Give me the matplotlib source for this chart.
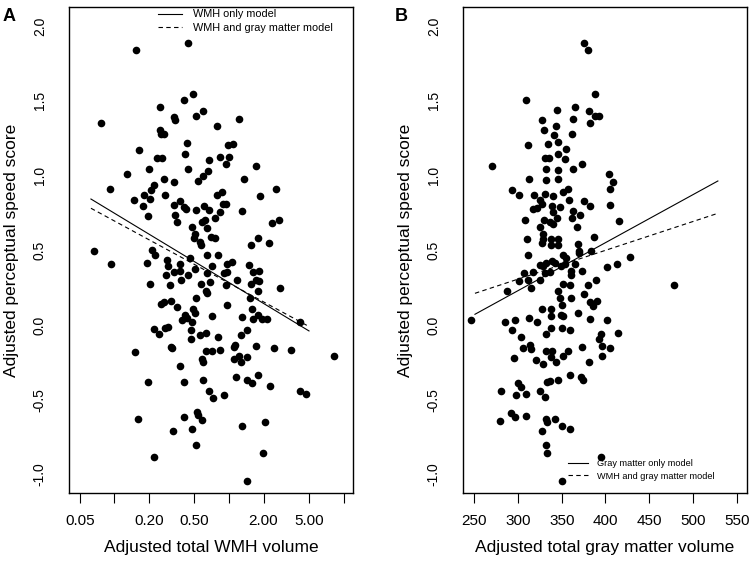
import matplotlib
matplotlib.use('Agg')
import matplotlib.pyplot as plt
import numpy as np
from matplotlib.lines import Line2D

plt.rcParams['font.family'] = ['Liberation Sans', 'DejaVu Sans']

# Panel A: adjusted WMH volume vs adjusted perceptual speed score
wmh_vol = [0.154, 0.442, 0.077, 0.489, 0.405, 0.249, 0.332, 0.338, 0.515, 0.597, 0.249, 0.255, 0.271, 0.433,
           0.163, 0.413, 0.236, 0.259, 0.669, 0.202, 0.442, 0.130, 0.652, 0.597, 0.537, 0.270, 0.334, 0.091,
           0.223, 0.210, 0.182, 0.275, 0.204, 0.149, 0.374, 0.178, 0.330, 0.405, 0.419, 0.515, 0.609, 0.669,
           0.196, 0.338, 0.354, 0.618, 0.578, 0.479, 0.647, 0.505, 0.495, 0.559, 0.567, 0.692, 0.066, 0.215,
           1.222, 0.786, 0.974, 1.077, 0.840, 1.006, 0.936, 1.730, 1.351, 2.570, 0.874, 0.781, 1.863, 0.892,
           0.936, 0.835, 0.751, 1.306, 2.357, 2.745, 0.751, 1.564, 1.790, 2.245,
           0.093, 0.193, 0.226, 0.290, 0.296, 0.374, 0.454, 0.639, 0.707, 0.332, 0.374, 0.284, 0.439, 0.505,
           0.643, 0.384, 0.206, 0.306, 0.567, 0.679, 0.627, 0.647, 0.515, 0.257, 0.271, 0.314, 0.350, 0.489,
           0.505, 0.413, 0.428, 0.392, 0.715, 0.473, 0.223, 0.245, 0.277, 0.292, 0.469, 0.556, 0.630, 0.469,
           0.152, 0.312, 0.318, 0.626, 0.715, 0.585, 0.594, 0.376, 0.198, 0.405, 0.597, 0.669, 0.725, 0.162,
           0.405, 0.523, 0.537, 0.585, 0.325, 0.479, 0.515, 0.223,
           0.807, 0.955, 1.062, 0.905, 0.966, 1.494, 1.609, 1.837, 1.167, 0.936, 1.564, 1.709, 1.837, 1.801,
           2.800, 1.524, 0.955, 1.578, 1.306, 1.609, 1.779, 1.951, 2.157, 4.184, 1.426, 1.280, 0.807, 0.835,
           1.105, 1.135, 1.730, 2.467, 3.490, 8.230, 1.112, 1.230, 1.273, 1.436, 1.144, 1.426, 1.578, 1.801,
           2.278, 0.905, 4.160, 4.660, 1.290, 2.047, 1.967, 1.426]
wmh_score = [1.840, 1.885, 1.350, 1.542, 1.506, 1.457, 1.390, 1.368, 1.395, 1.432, 1.301, 1.275, 1.275, 1.219,
             1.170, 1.145, 1.114, 1.114, 1.103, 1.045, 1.045, 1.011, 1.031, 0.996, 0.963, 0.974, 0.958, 0.911,
             0.936, 0.900, 0.871, 0.867, 0.840, 0.838, 0.829, 0.793, 0.800, 0.789, 0.777, 0.771, 0.793, 0.771,
             0.727, 0.733, 0.689, 0.704, 0.689, 0.655, 0.650, 0.610, 0.584, 0.555, 0.533, 0.588, 0.495, 0.499,
             1.375, 1.328, 1.205, 1.212, 1.123, 1.123, 1.078, 1.065, 0.974, 0.911, 0.887, 0.869, 0.860, 0.807,
             0.807, 0.755, 0.717, 0.764, 0.682, 0.700, 0.582, 0.537, 0.580, 0.546,
             0.408, 0.414, 0.466, 0.432, 0.392, 0.410, 0.448, 0.466, 0.392, 0.354, 0.359, 0.336, 0.336, 0.376,
             0.350, 0.303, 0.274, 0.265, 0.274, 0.285, 0.225, 0.212, 0.178, 0.142, 0.152, 0.162, 0.122, 0.109,
             0.080, 0.065, 0.047, 0.031, 0.060, 0.020, -0.029, -0.058, -0.020, -0.013, -0.031, -0.065, -0.051,
             -0.092, -0.180, -0.149, -0.156, -0.174, -0.176, -0.227, -0.249, -0.274, -0.379, -0.381, -0.368,
             -0.443, -0.488, -0.628, -0.617, -0.584, -0.604, -0.633, -0.709, -0.695, -0.802, -0.882,
             0.470, 0.410, 0.421, 0.348, 0.354, 0.399, 0.354, 0.363, 0.303, 0.269, 0.276, 0.301, 0.296, 0.229,
             0.247, 0.178, 0.136, 0.109, 0.053, 0.042, 0.065, 0.038, 0.038, 0.020, -0.035, -0.065, -0.082,
             -0.169, -0.145, -0.132, -0.138, -0.156, -0.169, -0.205, -0.225, -0.205, -0.249, -0.216, -0.348,
             -0.368, -0.386, -0.336, -0.408, -0.466, -0.439, -0.459, -0.677, -0.646, -0.856, -1.041]

# Panel B: adjusted gray matter volume vs adjusted perceptual speed score
gm_vol = [309.1, 344.9, 327.1, 343.1, 329.3, 341.1, 311.4, 334.6, 345.3, 270.6, 330.5, 335.1, 346.0, 355.2,
          353.4, 332.3, 345.3, 312.2, 331.6, 346.0, 293.1, 301.1, 318.3, 331.2, 340.0, 351.4, 324.8, 327.7,
          317.1, 321.7, 339.2, 347.6, 358.3, 340.0, 344.6, 329.7, 308.0, 336.9, 325.5, 340.0, 328.5, 328.5,
          310.2, 337.7, 346.0, 337.7, 346.0, 327.7,
          375.1, 380.3, 387.6, 365.1, 381.1, 387.6, 392.2, 382.3, 363.2, 362.0, 372.8, 363.2, 403.6, 408.6,
          404.8, 357.1, 375.8, 382.3, 405.5, 363.2, 362.0, 370.8, 415.1, 367.4, 386.5, 368.6, 369.7, 383.1,
          311.8, 325.5, 328.5, 332.3, 339.2, 341.9, 351.4, 355.2, 353.4, 349.5, 360.9, 306.8, 317.1, 311.4,
          301.1, 315.2, 324.8, 330.5, 336.9, 287.7, 351.4, 359.1, 345.7, 347.6, 350.6, 360.9, 327.4, 338.0,
          338.0, 348.8, 351.4, 246.6, 284.8, 296.2, 312.5, 322.0, 293.4, 338.0, 332.3, 350.6, 359.1, 303.7,
          313.3, 305.7, 315.2, 295.4, 320.9, 328.5, 332.3, 339.2, 338.0, 343.7, 351.4, 357.1, 359.1, 345.7,
          336.9, 333.1, 280.9, 300.0, 303.7, 297.3, 309.4, 325.5, 330.5, 279.0, 291.6, 296.9, 309.4, 332.3,
          333.1, 341.9, 350.6, 359.8, 327.4, 332.3, 333.5, 350.6,
          369.7, 428.0, 413.1, 401.7, 365.1, 373.5, 360.9, 389.5, 380.0, 375.1, 382.3, 390.6, 386.0, 368.6,
          382.3, 401.7, 478.3, 394.9, 392.6, 414.3, 396.0, 405.5, 373.5, 396.0, 381.1, 372.3, 374.3, 395.2]
gm_score = [1.506, 1.439, 1.368, 1.328, 1.301, 1.270, 1.203, 1.210, 1.221, 1.065, 1.118, 1.116, 1.145, 1.174,
            1.112, 1.045, 1.034, 0.974, 0.967, 0.974, 0.900, 0.869, 0.867, 0.874, 0.860, 0.889, 0.834, 0.807,
            0.775, 0.784, 0.793, 0.789, 0.838, 0.755, 0.717, 0.700, 0.700, 0.689, 0.655, 0.677, 0.610, 0.577,
            0.577, 0.577, 0.577, 0.537, 0.537, 0.548,
            1.885, 1.840, 1.542, 1.457, 1.431, 1.395, 1.395, 1.350, 1.375, 1.275, 1.078, 1.045, 1.011, 0.956,
            0.911, 0.911, 0.831, 0.798, 0.804, 0.760, 0.717, 0.735, 0.693, 0.655, 0.588, 0.543, 0.493, 0.495,
            0.470, 0.403, 0.392, 0.414, 0.430, 0.414, 0.466, 0.448, 0.408, 0.392, 0.363, 0.348, 0.354, 0.303,
            0.292, 0.247, 0.303, 0.348, 0.354, 0.229, 0.274, 0.269, 0.225, 0.180, 0.136, 0.180, 0.109, 0.109,
            0.058, 0.069, 0.058, 0.036, 0.020, 0.036, 0.047, 0.020, -0.031, -0.020, -0.060, -0.020, -0.031,
            -0.082, -0.132, -0.154, -0.158, -0.221, -0.232, -0.261, -0.172, -0.172, -0.216, -0.247, -0.205,
            -0.176, -0.336, -0.368, -0.376, -0.381, -0.443, -0.388, -0.417, -0.466, -0.461, -0.443, -0.483,
            -0.640, -0.588, -0.617, -0.610, -0.626, -0.648, -0.628, -0.677, -0.695, -0.711, -0.800, -0.856,
            -1.041,
            0.481, 0.453, 0.408, 0.388, 0.408, 0.359, 0.336, 0.303, 0.265, 0.209, 0.154, 0.162, 0.125, 0.080,
            0.042, 0.033, 0.265, -0.060, -0.092, -0.056, -0.138, -0.154, -0.149, -0.205, -0.249, -0.348,
            -0.370, -0.882]

# fitted lines: (intercept, slope); panel A is on log10(volume)
wmh_only_fit = (0.284, -0.464)
wmh_gm_fit_a = (0.280, -0.416)
wmh_fit_range = (0.0626, 4.98)
gm_only_fit = (-0.733, 0.003209)
wmh_gm_fit_b = (-0.271, 0.001926)
gm_fit_range = (250.8, 528.5)

wmh_ticks = [0.05, 0.1, 0.2, 0.5, 1, 2, 5, 10]
wmh_ticklabels = ['0.05', '', '0.20', '0.50', '', '2.00', '5.00', '']
gm_ticks = [250, 300, 350, 400, 450, 500, 550]
y_ticks = [-1.0, -0.5, 0.0, 0.5, 1.0, 1.5, 2.0]

fig = plt.figure(figsize=(7.5, 5.61), dpi=100)
axA = fig.add_axes([0.092, 0.1212, 0.3787, 0.8663])
axB = fig.add_axes([0.6173, 0.1212, 0.3787, 0.8663])


def style_axes(ax):
    ax.set_ylim(-1.123, 2.126)
    ax.set_yticks(y_ticks)
    ax.set_yticklabels(['%.1f' % v for v in y_ticks], rotation=90, va='center')
    ax.tick_params(axis='y', length=0, pad=16, labelsize=10)
    ax.tick_params(axis='x', length=7, width=0.8, pad=8, labelsize=11)
    for s in ax.spines.values():
        s.set_linewidth(1.0)
    ax.set_ylabel('Adjusted perceptual speed score', fontsize=12.5, labelpad=10)


# Panel A
axA.plot(wmh_vol, wmh_score, 'o', color='black', markersize=5.5, markeredgewidth=0)
xs = np.geomspace(*wmh_fit_range, 50)
axA.plot(xs, wmh_only_fit[0] + wmh_only_fit[1] * np.log10(xs), color='black', lw=0.8)
axA.plot(xs, wmh_gm_fit_a[0] + wmh_gm_fit_a[1] * np.log10(xs), color='black', lw=0.8, ls=(0, (4, 3)))
axA.set_xscale('log')
axA.set_xlim(0.0403, 12.05)
axA.set_xticks(wmh_ticks)
axA.set_xticklabels(wmh_ticklabels)
axA.xaxis.set_minor_locator(matplotlib.ticker.NullLocator())
style_axes(axA)
axA.set_xlabel('Adjusted total WMH volume', fontsize=12.5, labelpad=9)
axA.legend([Line2D([], [], color='black', lw=0.8), Line2D([], [], color='black', lw=0.8, ls=(0, (4, 3)))],
           ['WMH only model', 'WMH and gray matter model'],
           loc='upper left', bbox_to_anchor=(0.313, 0.995), frameon=False, fontsize=7.8,
           handlelength=2.2, handletextpad=1.0, labelspacing=0.3, borderpad=0, borderaxespad=0)

# Panel B
axB.plot(gm_vol, gm_score, 'o', color='black', markersize=5.5, markeredgewidth=0)
xs = np.linspace(*gm_fit_range, 50)
axB.plot(xs, gm_only_fit[0] + gm_only_fit[1] * xs, color='black', lw=0.8)
axB.plot(xs, wmh_gm_fit_b[0] + wmh_gm_fit_b[1] * xs, color='black', lw=0.8, ls=(0, (4, 3)))
axB.set_xlim(237.1, 561.8)
axB.set_xticks(gm_ticks)
style_axes(axB)
axB.set_xlabel('Adjusted total gray matter volume', fontsize=12.5, labelpad=9)
axB.legend([Line2D([], [], color='black', lw=0.8), Line2D([], [], color='black', lw=0.8, ls=(0, (4, 3)))],
           ['Gray matter only model', 'WMH and gray matter model'],
           loc='upper left', bbox_to_anchor=(0.37, 0.069), frameon=False, fontsize=6.6,
           handlelength=2.2, handletextpad=1.0, labelspacing=0.35, borderpad=0, borderaxespad=0)

fig.text(0.004, 0.97, 'A', fontsize=13, fontweight='bold', ha='left', va='center')
fig.text(0.527, 0.97, 'B', fontsize=13, fontweight='bold', ha='left', va='center')

fig.savefig('out.png', dpi=100)
